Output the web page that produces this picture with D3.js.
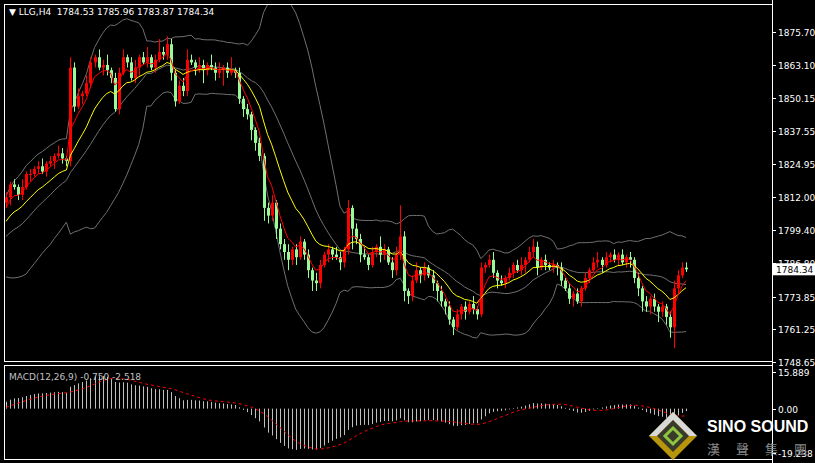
<!DOCTYPE html>
<html><head><meta charset="utf-8">
<script src="https://cdn.jsdelivr.net/npm/d3@7"></script>
<style>body{margin:0;background:#000}svg{display:block}</style>
</head><body>
<svg width="815" height="463"></svg>
<script>
// closes before the visible window, only used to warm up the indicators
var warmup = [1800, 1803, 1806, 1810, 1812, 1809, 1805, 1800, 1796, 1793, 1790, 1788, 1791, 1794, 1792,
    1789, 1786, 1788, 1790, 1793, 1795, 1797, 1796, 1799, 1801, 1803, 1802, 1805, 1808, 1810]

var closes = [
    1812, 1817, 1816, 1813, 1816, 1821, 1821, 1823, 1824, 1822,
    1825, 1826, 1828, 1829, 1827, 1826, 1862, 1847, 1851, 1852,
    1856, 1864, 1866, 1862, 1863, 1861, 1858, 1846, 1860, 1866,
    1864, 1858, 1862, 1866, 1864, 1866, 1862, 1865, 1868, 1867,
    1871, 1860, 1849, 1855, 1853, 1865, 1864, 1862, 1863, 1861,
    1863, 1862, 1860, 1861, 1862, 1860, 1861, 1860, 1850, 1846,
    1844, 1838, 1833, 1828, 1808, 1805, 1810, 1800, 1794, 1791,
    1788, 1792, 1789, 1795, 1790, 1784, 1780, 1779, 1786, 1790,
    1792, 1790, 1789, 1787, 1792, 1808, 1800, 1796, 1790, 1789,
    1786, 1791, 1793, 1790, 1792, 1787, 1784, 1790, 1797, 1776,
    1774, 1780, 1784, 1782, 1785, 1782, 1779, 1776, 1772, 1770,
    1765, 1762, 1767, 1770, 1768, 1771, 1769, 1767, 1785, 1786,
    1788, 1783, 1780, 1779, 1781, 1783, 1786, 1784, 1786, 1788,
    1791, 1793, 1785, 1788, 1786, 1785, 1786, 1785, 1780, 1777,
    1773, 1775, 1772, 1777, 1781, 1784, 1787, 1788, 1786, 1789,
    1790, 1788, 1790, 1787, 1789, 1788, 1781, 1777, 1772, 1770,
    1773, 1770, 1768, 1770, 1766, 1762, 1777, 1782, 1785, 1784.34]

// wick lengths above / below the body, in price units
var upWick = [
    2, 1, 2, 1, 3, 1, 2, 1, 2, 3,
    1, 2, 1, 3, 2, 1, 4, 2, 3, 1,
    3, 2, 1, 3, 2, 4, 1, 2, 2, 3,
    1, 2, 3, 1, 2, 4, 1, 2, 5, 2,
    3, 2, 1, 2, 3, 4, 2, 1, 3, 2,
    1, 4, 2, 3, 1, 2, 5, 1, 2, 1,
    2, 1, 1, 2, 1, 2, 3, 1, 2, 2,
    3, 1, 2, 2, 1, 2, 1, 3, 2, 1,
    2, 1, 3, 2, 1, 3, 1, 2, 2, 3,
    1, 2, 1, 4, 2, 1, 2, 3, 12, 2,
    1, 2, 3, 1, 2, 1, 2, 1, 2, 1,
    2, 1, 2, 1, 2, 1, 3, 1, 2, 1,
    2, 3, 1, 2, 1, 2, 1, 2, 3, 1,
    2, 3, 2, 1, 2, 1, 2, 1, 2, 1,
    2, 1, 2, 1, 2, 1, 2, 3, 1, 2,
    1, 2, 1, 2, 1, 2, 1, 2, 1, 2,
    1, 2, 1, 2, 1, 2, 3, 2, 2, 2]
var dnWick = [
    2, 3, 1, 2, 2, 1, 3, 1, 2, 1,
    2, 1, 3, 1, 2, 2, 2, 2, 1, 3,
    1, 2, 2, 1, 3, 2, 2, 1, 2, 1,
    2, 1, 2, 3, 1, 2, 1, 2, 1, 2,
    2, 3, 2, 1, 2, 2, 1, 3, 2, 5,
    2, 1, 3, 2, 6, 2, 1, 2, 2, 3,
    2, 4, 3, 2, 5, 3, 2, 4, 2, 3,
    4, 2, 3, 1, 2, 3, 4, 3, 2, 1,
    3, 2, 1, 3, 2, 2, 8, 2, 3, 1,
    2, 1, 2, 3, 2, 1, 3, 2, 2, 4,
    3, 2, 1, 3, 2, 1, 3, 4, 2, 3,
    2, 3, 1, 2, 3, 1, 2, 2, 1, 2,
    1, 2, 3, 1, 2, 1, 2, 1, 2, 3,
    1, 2, 3, 1, 2, 1, 2, 3, 2, 1,
    2, 3, 1, 2, 1, 2, 1, 2, 3, 1,
    2, 1, 2, 1, 2, 3, 2, 3, 4, 2,
    3, 2, 4, 2, 3, 4, 8, 2, 1, 1]

var priceTicks = [1875.70, 1863.10, 1850.15, 1837.55, 1824.95, 1812.00, 1799.40, 1786.80, 1773.85, 1761.25, 1748.65]
var macdTicks = [15.889, 0.00, -19.238]

var svg = d3.select("svg")
var axisX = 772

// indicators
var all = warmup.concat(closes), n0 = warmup.length
function ema(arr, p) {
    var k = 2 / (p + 1), out = [], v = arr[0]
    arr.forEach((d, i) => { v = i ? d * k + v * (1 - k) : d; out.push(v) })
    return out
}
function sma(arr, p) {
    return arr.map((d, i) => d3.mean(arr.slice(Math.max(0, i - p + 1), i + 1)))
}
var mid = sma(all, 20)
var sd = all.map((d, i) => d3.deviation(all.slice(Math.max(0, i - 19), i + 1)) || 0)
var e12 = ema(all, 12), e26 = ema(all, 26)
var macd = all.map((d, i) => e12[i] - e26[i])
var signal = sma(macd, 9)
var red = ema(all, 5), yellow = ema(all, 13)

var x = d3.scaleLinear().domain([0, closes.length - 1]).range([6, 686])
var y = d3.scaleLinear().domain([1748.65, 1875.70]).range([362, 32])
var ym = d3.scaleLinear().domain([-19.238, 15.889]).range([453, 372])

// frames
var g = svg.append("g")
g.append("rect").attr("x", 4.5).attr("y", 4.5).attr("width", axisX - 4).attr("height", 357)
    .attr("fill", "none").attr("stroke", "#fff")
g.append("rect").attr("x", 4.5).attr("y", 365.5).attr("width", axisX - 4).attr("height", 94)
    .attr("fill", "none").attr("stroke", "#fff")
g.append("line").attr("x1", axisX + 0.5).attr("x2", axisX + 0.5).attr("y1", 0).attr("y2", 463).attr("stroke", "#fff")

// price axis
priceTicks.forEach(t => {
    g.append("line").attr("x1", axisX).attr("x2", axisX + 4).attr("y1", Math.round(y(t)) + 0.5)
        .attr("y2", Math.round(y(t)) + 0.5).attr("stroke", "#fff")
    g.append("text").attr("x", axisX + 6).attr("y", y(t) + 4).text(t.toFixed(2))
        .attr("fill", "#fff").attr("font-family", "DejaVu Sans").attr("font-size", 9)
})
macdTicks.forEach(t => {
    g.append("line").attr("x1", axisX).attr("x2", axisX + 4).attr("y1", Math.round(ym(t)) + 0.5)
        .attr("y2", Math.round(ym(t)) + 0.5).attr("stroke", "#fff")
    g.append("text").attr("x", axisX + 6).attr("y", ym(t) + 4).text(t === 0 ? "0.00" : t.toFixed(3))
        .attr("fill", "#fff").attr("font-family", "DejaVu Sans").attr("font-size", 9)
})

svg.append("clipPath").attr("id", "cm").append("rect")
    .attr("x", 5).attr("y", 5).attr("width", axisX - 5).attr("height", 356)
var main = svg.append("g").attr("clip-path", "url(#cm)")

var idx = d3.range(closes.length)
var line = (arr) => d3.line().x(i => x(i)).y(i => y(arr[i + n0]))(idx)
main.append("path").attr("d", line(mid.map((m, i) => m + 2 * sd[i]))).attr("fill", "none").attr("stroke", "#707070")
main.append("path").attr("d", line(mid.map((m, i) => m - 2 * sd[i]))).attr("fill", "none").attr("stroke", "#707070")
main.append("path").attr("d", line(mid)).attr("fill", "none").attr("stroke", "#707070")

// candles
var opens = closes.map((c, i) => i ? closes[i - 1] : warmup[n0 - 1])
main.selectAll(".wick").data(idx).enter().append("line")
    .attr("x1", i => Math.round(x(i)) + 0.5).attr("x2", i => Math.round(x(i)) + 0.5)
    .attr("y1", i => y(Math.max(opens[i], closes[i]) + upWick[i]))
    .attr("y2", i => y(Math.min(opens[i], closes[i]) - dnWick[i]))
    .attr("stroke", i => closes[i] >= opens[i] ? "#ff0000" : "#98fb98")
main.selectAll(".body").data(idx).enter().append("rect")
    .attr("x", i => Math.round(x(i)) - 1).attr("width", 3)
    .attr("y", i => y(Math.max(opens[i], closes[i])))
    .attr("height", i => Math.max(1, Math.abs(y(opens[i]) - y(closes[i]))))
    .attr("fill", i => closes[i] >= opens[i] ? "#ff0000" : "#98fb98")

main.append("path").attr("d", line(yellow)).attr("fill", "none").attr("stroke", "#ffff00")
main.append("path").attr("d", line(red)).attr("fill", "none").attr("stroke", "#ff0000")

// current price label
var last = closes[closes.length - 1]
g.append("rect").attr("x", axisX + 1).attr("y", y(last) - 6).attr("width", 42).attr("height", 12).attr("fill", "#fff")
g.append("text").attr("x", axisX + 4).attr("y", y(last) + 4).text(last.toFixed(2))
    .attr("fill", "#000").attr("font-family", "DejaVu Sans").attr("font-size", 9)

svg.append("text").attr("x", 9).attr("y", 15).text("\u25BC LLG,H4  1784.53 1785.96 1783.87 1784.34")
    .attr("fill", "#fff").attr("font-family", "DejaVu Sans").attr("font-size", 9).attr("xml:space", "preserve")

// MACD
var sub = svg.append("g")
sub.selectAll("line").data(idx).enter().append("line")
    .attr("x1", i => Math.round(x(i)) + 0.5).attr("x2", i => Math.round(x(i)) + 0.5)
    .attr("y1", ym(0)).attr("y2", i => ym(macd[i + n0]))
    .attr("stroke", "#c0c0c0")
sub.append("path").attr("d", d3.line().x(i => x(i)).y(i => ym(signal[i + n0]))(idx))
    .attr("fill", "none").attr("stroke", "#ff0000").attr("stroke-dasharray", "3,3")
sub.append("text").attr("x", 9).attr("y", 380).text("MACD(12,26,9) -0.750 -2.518")
    .attr("fill", "#c0c0c0").attr("font-family", "DejaVu Sans").attr("font-size", 9)

// logo
var lg = svg.append("g").attr("transform", "translate(673,436)")
lg.append("path").attr("d", "M0,-24L24,0L0,24L-24,0Z").attr("fill", "#b8960c")
lg.append("path").attr("d", "M0,-24L24,0L16,0L0,-16L-16,0L-24,0Z").attr("fill", "#d8d8d8")
lg.append("path").attr("d", "M0,-16L16,0L0,16L-16,0Z").attr("fill", "#3a3a2a")
lg.append("path").attr("d", "M0,-8L8,0L0,8L-8,0Z").attr("fill", "none").attr("stroke", "#8dc63f").attr("stroke-width", 3)
svg.append("text").attr("x", 707).attr("y", 432).text("SINO SOUND").attr("fill", "#fff")
    .attr("font-family", "Liberation Sans").attr("font-weight", "bold").attr("font-size", 16)
svg.append("text").attr("x", 707).attr("y", 454).text("漢聲集團").attr("fill", "#888")
    .attr("font-family", "Noto Sans CJK TC").attr("font-size", 13).attr("letter-spacing", 16)
</script>
</body></html>
